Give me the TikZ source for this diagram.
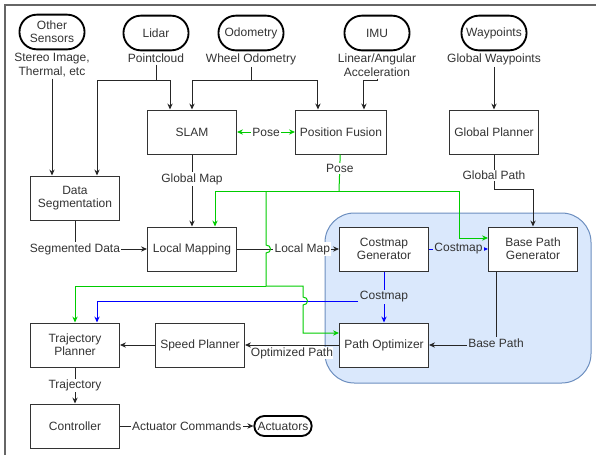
\documentclass[tikz,border=0pt]{standalone}
\usepackage{fontspec}
\setmainfont{Liberation Sans}
\usetikzlibrary{arrows.meta, positioning, shapes.misc, calc}
\definecolor{poseGreen}{HTML}{00CC00}
\definecolor{mapBlue}{HTML}{0000FF}
\definecolor{groupFill}{HTML}{DAE8FC}
\definecolor{groupLine}{HTML}{6C8EBF}
\tikzset{
module/.style={
    rectangle,
    draw=black!80,
    fill=white,
    line width=0.75pt,
    minimum width=66.75pt,
    minimum height=33pt,
    align=center,
    text=black!80,
    font=\fontsize{9}{10}\selectfont
},
source/.style={
    rounded rectangle,
    draw=black,
    line width=1.4pt,
    minimum width=55.5pt,
    minimum height=26pt,
    align=center,
    text=black!80,
    font=\fontsize{9}{10}\selectfont
},
tag/.style={
    fill=white,
    inner sep=1pt,
    align=center,
    text=black!80,
    font=\fontsize{9}{10.5}\selectfont
},
flow/.style={line width=0.75pt, draw=black!85},
pose/.style={line width=0.75pt, draw=poseGreen},
cost/.style={line width=0.75pt, draw=mapBlue}
}

\begin{document}
\begin{tikzpicture}[
        x=0.75pt, y=-0.75pt,
        >={Stealth[length=4.5pt, width=4pt]},
        node distance=1pt
    ]
    \useasboundingbox (0,0) rectangle (596,455);

    % frame and local planning group
    \draw[black!60, line width=1.5pt] (5,455) -- (5,5) -- (596,5);
    \draw[groupLine, fill=groupFill, line width=0.75pt, rounded corners=22pt] (325,213) rectangle (591,383);

    % sensors
    \node[source] (other) at (52,32) {Other\\Sensors};
    \node[source] (lidar) at (156,33) {Lidar};
    \node[source] (odom) at (251,33) {Odometry};
    \node[source] (imu) at (377,33) {IMU};
    \node[source] (wayp) at (494,33) {Waypoints};

    \node[tag, below=of other] (otherout) {Stereo Image,\\Thermal, etc};
    \node[tag, below=of lidar] (lidarout) {Pointcloud};
    \node[tag, below=of odom] (odomout) {Wheel Odometry};
    \node[tag, below=of imu] (imuout) {Linear/Angular\\Acceleration};
    \node[tag, below=of wayp] (wayout) {Global Waypoints};

    % modules
    \node[module] (slam) at (192,132) {SLAM};
    \node[module, right=43.5pt of slam] (fusion) {Position Fusion};
    \node[module] (gplan) at (494,132) {Global Planner};
    \node[module] (dseg) at (75,198) {Data\\Segmentation};
    \node[module] (lmap) at (192,249) {Local Mapping};
    \node[module] (cgen) at (384,249) {Costmap\\Generator};
    \node[module, right=44.25pt of cgen] (bpg) {Base Path\\Generator};
    \node[module] (popt) at (384,345) {Path Optimizer};
    \node[module] (splan) at (200,345) {Speed Planner};
    \node[module] (tplan) at (75,345) {Trajectory\\Planner};
    \node[module] (ctrl) at (75,426) {Controller};
    \node[source, minimum width=45pt, minimum height=15pt, inner sep=1pt] (act) at (283,426) {Actuators};

    % sensor edges
    \coordinate (lidarsplit) at (156,80);
    \coordinate (odomsplit) at (251,80);
    \coordinate (imusplit) at (377,80);
    \draw[flow, ->] (otherout) -- (otherout |- dseg.north);
    \draw[flow] (lidarout) -- (lidarsplit);
    \draw[flow, ->] (lidarsplit) -| ($(dseg.north)+(22,0)$);
    \draw[flow, ->] (lidarsplit) -| ($(slam.north)+(-22,0)$);
    \draw[flow] (odomout) -- (odomsplit);
    \draw[flow, ->] (odomsplit) -| (slam.north);
    \draw[flow, ->] (odomsplit) -| ($(fusion.north)+(-23,0)$);
    \draw[flow, ->] (imuout) -- (imusplit) -| ($(fusion.north)+(23,0)$);
    \draw[flow, ->] (wayout) -- (gplan);

    % black edges
    \draw[flow, ->] (slam) -- node[tag, pos=0.34]{Global Map} (lmap);
    \draw[flow, ->] (gplan) |- node[tag, pos=0.3]{Global Path} ($(bpg.north)+(0,-37)$) -- (bpg.north);
    \draw[flow, ->] (dseg) |- node[tag]{Segmented Data} (lmap);
    \draw[flow, ->] (lmap) -- node[tag, pos=0.64]{Local Map} (cgen);
    \draw[flow, ->] ($(bpg.south)+(-37,0)$) |- node[tag, fill=groupFill, yshift=1.5pt]{Base Path} (popt);
    \draw[flow, ->] (popt) -- node[tag, inner sep=0pt, yshift=-6pt]{Optimized Path} (splan);
    \draw[flow, ->] (splan) -- (tplan);
    \draw[flow, ->] (tplan) -- node[tag]{Trajectory} (ctrl);
    \draw[flow, ->] (ctrl) -- node[tag]{Actuator Commands} (act);

    % costmap edges
    \draw[cost, ->] (cgen) -- node[tag, fill=groupFill]{Costmap} (bpg);
    \draw[cost, ->] (cgen) -- node[tag, fill=groupFill] (costout) {Costmap} (popt);
    \draw[cost, ->] ($(costout.west)+(0,4)$) -| ($(tplan.north)+(22,0)$);

    % pose edges
    \coordinate (posesplit) at (339,191);
    \coordinate (posedrop) at (266,191);
    \coordinate (posecross) at (266,286);
    \draw[pose, <->] (slam) -- node[tag]{Pose} (fusion);
    \draw[pose] (fusion) -- node[tag, pos=0.38]{Pose} (posesplit);
    \draw[pose, ->] (posesplit) -| ($(lmap.north)+(23,0)$);
    \draw[pose, ->] (posesplit) -| ($(bpg.west)+(-29,-11)$) -- ($(bpg.west)+(0,-11)$);
    \draw[pose] (posedrop) -- (266,245) .. controls (272,245) and (272,253) .. (266,253) -- (posecross);
    \draw[pose, ->] (posecross) -| (tplan.north);
    \draw[pose, ->] (posecross) -| (303,297) .. controls (309,297) and (309,305) .. (303,305) |- ($(popt.west)+(0,-12)$);

\end{tikzpicture}
\end{document}
